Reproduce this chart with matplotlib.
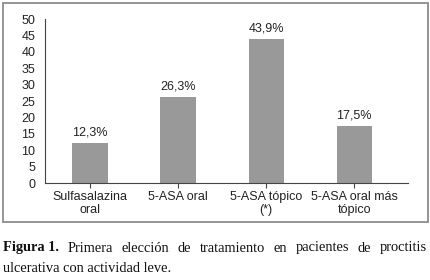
import matplotlib
matplotlib.use("Agg")
import matplotlib.pyplot as plt
from matplotlib.patches import Rectangle

categorias = ["Sulfasalazina\noral", "5-ASA oral", "5-ASA tópico\n(*)", "5-ASA oral más\ntópico"]
porcentajes = [12.3, 26.3, 43.9, 17.5]
etiquetas = ["12,3%", "26,3%", "43,9%", "17,5%"]
yticks = [0, 5, 10, 15, 20, 25, 30, 35, 40, 45, 50]
titulo_bold = "Figura 1."
titulo_l1 = "Primera elección de tratamiento en pacientes de proctitis"
titulo_l2 = "ulcerativa con actividad leve."

sans = ["Liberation Sans Narrow", "Liberation Sans", "DejaVu Sans"]
serif = ["Liberation Serif", "DejaVu Serif"]

fig = plt.figure(figsize=(4.3, 2.8), dpi=100)
ax = fig.add_axes([45 / 430, 1 - 183 / 280, 363 / 430, 164 / 280])

x = list(range(len(categorias)))
bars = ax.bar(x, porcentajes, width=0.4, color="#999999", zorder=2)
for b, lab in zip(bars, etiquetas):
    ax.annotate(lab, (b.get_x() + b.get_width() / 2, b.get_height()),
                xytext=(0, 3), textcoords="offset points", ha="center", va="bottom",
                fontsize=9, family=sans, color="#222222")

ax.set_xlim(-0.51, 3.61)
ax.set_ylim(0, 50)
ax.set_yticks(yticks)
ax.set_yticks([0, 50], minor=True)
ax.set_xticks(x)
ax.set_xticklabels(categorias, family=sans, fontsize=9, color="#222222", linespacing=1.1)
for t in ax.get_yticklabels():
    t.set_family(sans)
    t.set_fontsize(9)
    t.set_color("#222222")
ax.tick_params(axis="y", which="major", length=0, pad=7)
ax.tick_params(axis="y", which="minor", length=3.5, width=0.8, color="#444444")
ax.tick_params(axis="x", length=3.5, width=0.8, color="#444444", pad=2)
for s in ["top", "right"]:
    ax.spines[s].set_visible(False)
for s in ["left", "bottom"]:
    ax.spines[s].set_color("#444444")
    ax.spines[s].set_linewidth(0.8)

# marco gris alrededor del grafico
fig.patches.append(Rectangle((3 / 430, 1 - 222 / 280), 425 / 430, 219 / 280,
                             transform=fig.transFigure, fill=False,
                             edgecolor="#8c8c8c", linewidth=1.3))

# pie de figura, primera linea justificada
fs = 10.4
y1 = 1 - 248 / 280
y2 = 1 - 269 / 280
left, right = 3 / 430, 427 / 430
renderer = fig.canvas.get_renderer()
tb = fig.text(left, y1, titulo_bold, family=serif, fontweight="bold", fontsize=fs,
              va="center", color="#111111")
words = titulo_l1.split()
texts = [fig.text(0, y1, w, family=serif, fontsize=fs, va="center", color="#111111") for w in words]
widths = [t.get_window_extent(renderer).width / 430 for t in texts]
wb = tb.get_window_extent(renderer).width / 430
gap = (right - left - wb - sum(widths)) / len(words)
pos = left + wb + gap
for t, w in zip(texts, widths):
    t.set_x(pos)
    pos += w + gap
fig.text(left, y2, titulo_l2, family=serif, fontsize=fs, va="center", color="#111111")

fig.savefig("out.png", dpi=100)
